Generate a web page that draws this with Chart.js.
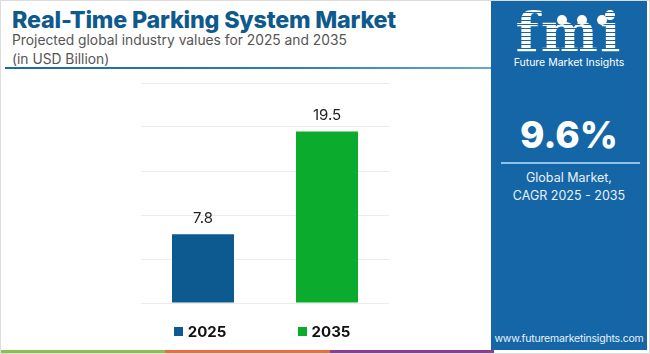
<!DOCTYPE html>
<html>
<head>
<meta charset="utf-8">
<script src="https://cdn.jsdelivr.net/npm/chart.js@4.4.1/dist/chart.umd.min.js"></script>
<style>
  html, body { margin: 0; padding: 0; background: #fff; }
  #frame { position: relative; width: 648px; height: 352px; border: 1px solid #dcdcdc; overflow: hidden; background: #fff; font-family: Inter, 'Open Sans', sans-serif; }
  #title { position: absolute; left: 11px; top: 4px; font-size: 23.3px; font-weight: 800; color: #0f5a8c; letter-spacing: -0.2px; white-space: nowrap; }
  #sub { position: absolute; left: 11px; top: 30px; font-size: 13.8px; line-height: 19px; color: #555; white-space: nowrap; }
  #rule { position: absolute; left: 4px; top: 66px; width: 486px; height: 2px; background: linear-gradient(90deg, #1a6aa0, #2f7fb3 60%, #6aa6cf); }
  #chart-wrap { position: absolute; left: 0; top: 69px; width: 490px; height: 280px; }
  #strip { position: absolute; left: 0; top: 349px; width: 493px; height: 4px; display: flex; }
  #strip span { flex: 1; }
  #panel { position: absolute; left: 490px; top: 0; width: 156px; height: 349px; background: #1566a6; color: #fff; text-align: center; }
  #logo { position: absolute; left: 0; top: 4px; width: 156px; text-align: center; font-family: 'DejaVu Serif', serif; font-weight: 700; font-size: 54px; line-height: 54px; letter-spacing: 2px;
    background: repeating-linear-gradient(180deg, #fff 0 3px, #1566a6 3px 4px); -webkit-background-clip: text; background-clip: text; color: transparent; }
  #dots { position: absolute; left: 66px; top: 8px; }
  #dots i { display: inline-block; width: 10px; height: 10px; border-radius: 50%; background: #fff; margin-right: 10px; }
  #fmi-name { position: absolute; left: 0; top: 55px; width: 156px; font-size: 10.5px; color: #fff; }
  #cagr { position: absolute; left: 0; top: 114px; width: 156px; font-size: 37px; font-weight: 800; line-height: 40px; }
  #cagr-rule { position: absolute; left: 10px; top: 161px; width: 139px; height: 2px; background: #8fc2ea; }
  #cagr-txt { position: absolute; left: 0; top: 168px; width: 156px; font-size: 12.5px; line-height: 18px; color: #eaf2fa; }
  #url { position: absolute; left: 0; top: 331px; width: 156px; font-size: 10.5px; color: #eaf2fa; letter-spacing: -0.2px; }
</style>
</head>
<body>
<div id="frame">
  <div id="title">Real-Time Parking System Market</div>
  <div id="sub">Projected global industry values for 2025 and 2035<br>(in USD Billion)</div>
  <div id="rule"></div>
  <div id="chart-wrap"><canvas id="chart" width="490" height="280"></canvas></div>
  <div id="strip"><span style="background:#8cc04f"></span><span style="background:#ee6b3d"></span><span style="background:#8d3c8f"></span></div>
  <div id="panel">
    <div id="logo">fmi</div>
    <div id="dots"><i></i><i></i><i></i></div>
    <div id="fmi-name">Future Market Insights</div>
    <div id="cagr">9.6%</div>
    <div id="cagr-rule"></div>
    <div id="cagr-txt">Global Market,<br>CAGR 2025 - 2035</div>
    <div id="url">www.futuremarketinsights.com</div>
  </div>
</div>
<script>
const categories = ['2025', '2035'];
const values = [7.8, 19.5];
const barColors = ['#0c5a8f', '#0bab2e'];
const yMin = 0;
const yMax = 25;
const yStep = 5;

// value labels above each bar
const valueLabels = {
  id: 'valueLabels',
  afterDatasetsDraw(chart) {
    const ctx = chart.ctx;
    ctx.save();
    ctx.font = "15px Inter, 'Open Sans', sans-serif";
    ctx.fillStyle = '#222';
    ctx.textAlign = 'center';
    ctx.textBaseline = 'bottom';
    chart.getDatasetMeta(0).data.forEach((bar, i) => {
      ctx.fillText(values[i].toFixed(1), bar.x, bar.y - 8);
    });
    ctx.restore();
  },
};

// legend: one swatch per category, under its bar
const barLegend = {
  id: 'barLegend',
  afterDraw(chart) {
    const ctx = chart.ctx;
    const x = chart.scales.x;
    const yMid = chart.chartArea.bottom + 28;
    ctx.save();
    ctx.font = "bold 15px Inter, 'Open Sans', sans-serif";
    ctx.textBaseline = 'middle';
    categories.forEach((c, i) => {
      const tw = ctx.measureText(c).width;
      const w = 9 + 5 + tw;
      const left = x.getPixelForValue(i) - 3 - w / 2;
      ctx.fillStyle = barColors[i];
      ctx.fillRect(Math.round(left), Math.round(yMid - 4), 9, 9);
      ctx.fillStyle = '#111';
      ctx.fillText(c, left + 14, yMid + 1);
    });
    ctx.restore();
  },
};

new Chart(document.getElementById('chart'), {
  type: 'bar',
  data: {
    labels: categories,
    datasets: [{
      data: values,
      backgroundColor: barColors,
      borderWidth: 0,
      categoryPercentage: 1,
      barPercentage: 0.5,
    }],
  },
  options: {
    responsive: false,
    animation: false,
    devicePixelRatio: 1,
    layout: { padding: { left: 140, right: 102, top: 13, bottom: 47 } },
    plugins: { legend: { display: false }, tooltip: { enabled: false } },
    scales: {
      x: { display: false },
      y: {
        min: yMin,
        max: yMax,
        ticks: { display: false, stepSize: yStep },
        grid: { color: '#ececec', drawTicks: false },
        border: { display: false },
      },
    },
  },
  plugins: [valueLabels, barLegend],
});
</script>
</body>
</html>
